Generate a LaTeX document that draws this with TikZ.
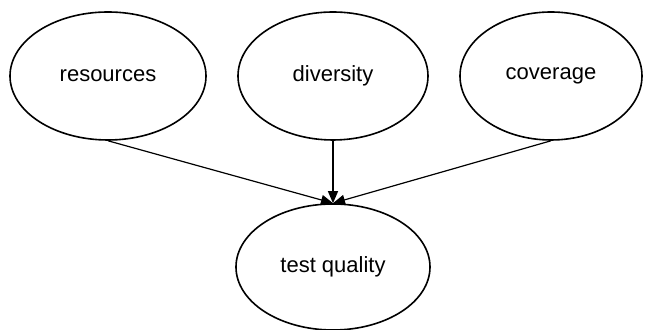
\documentclass[tikz,border=0pt]{standalone}
\usepackage{fontspec}
\setmainfont{Liberation Sans}
\usetikzlibrary{arrows.meta,shapes.geometric}

\begin{document}
\begin{tikzpicture}[x=0.5pt,y=-0.5pt,font=\fontsize{11}{13}\selectfont,
  factor/.style={draw,ellipse,line width=0.8pt,inner sep=0pt,minimum height=64pt},
  ar/.style={-{Triangle[length=6pt,width=5pt]},line width=0.6pt}]
\useasboundingbox (0,0) rectangle (645,330);
% --- the three influencing factors ---
\node[factor,minimum width=98pt] (res) at (108,76) {resources};
\node[factor,minimum width=95pt] (div) at (333,76) {diversity};
\node[factor,minimum width=91pt] (cov) at (551,76) {coverage};
% --- the outcome ---
\node[factor,minimum width=97pt,minimum height=63pt] (tq) at (333,267) {test quality};
\draw[ar] (res.south)--(tq.north);
\draw[ar] (div.south)--(tq.north);
\draw[ar] (cov.south)--(tq.north);
\end{tikzpicture}
\end{document}
